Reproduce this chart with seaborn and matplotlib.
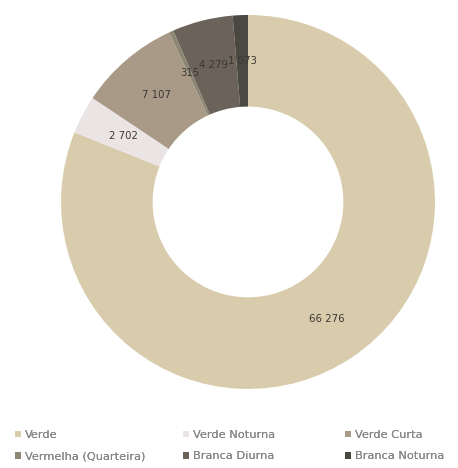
import matplotlib
matplotlib.use("Agg")
import matplotlib.pyplot as plt
import matplotlib.patches as mpatches
import seaborn as sns

# Light categories and their counts, drawn clockwise from 12 o'clock
categories = ["Verde", "Verde Noturna", "Verde Curta",
              "Vermelha (Quarteira)", "Branca Diurna", "Branca Noturna"]
values = [66276, 2702, 7107, 315, 4279, 1073]
colors = ["#d8ccac", "#ebe4e4", "#a89a86", "#8c8772", "#6b6259", "#4b4741"]

sns.set_theme(style="white")
plt.rcParams["font.family"] = ["DejaVu Sans"]

fig = plt.figure(figsize=(4.58, 4.68), dpi=100)
ax = fig.add_axes([0.133, 0.169, 0.817, 0.799])

def fmt(v):
    return f"{v:,}".replace(",", " ")

value_labels = iter([fmt(v) for v in values])
wedges, _, autotexts = ax.pie(
    values,
    colors=colors,
    startangle=90,
    counterclock=False,
    radius=1.0,
    wedgeprops=dict(width=0.49, edgecolor="none"),
    autopct=lambda p: next(value_labels),
    pctdistance=0.755,
    textprops=dict(fontsize=7.3, color="#3a3835"),
)
ax.set_xlim(-1, 1)
ax.set_ylim(-1, 1)
ax.set_aspect("equal")
ax.axis("off")

# Legend: three fixed-width columns, two rows each
handles = [mpatches.Patch(facecolor=c, edgecolor="none", label=l)
           for c, l in zip(colors, categories)]
col_x = [15 / 458, 183 / 458, 345 / 458]
for col in range(3):
    idx = [col, col + 3]
    leg = fig.legend(
        [handles[i] for i in idx],
        [categories[i] for i in idx],
        ncol=1,
        loc="upper left",
        bbox_to_anchor=(col_x[col], 1 - 430 / 468),
        frameon=False,
        fontsize=8.2,
        labelcolor="#858585",
        handlelength=0.55,
        handleheight=0.55,
        handletextpad=0.3,
        labelspacing=1.0,
        borderpad=0,
        borderaxespad=0,
    )
    fig.add_artist(leg)

fig.savefig("out.png", dpi=100, facecolor="white")
